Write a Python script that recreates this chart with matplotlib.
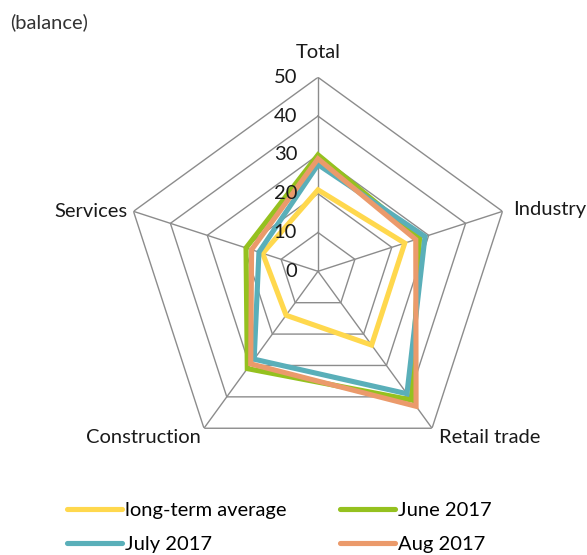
import numpy as np
import matplotlib
matplotlib.use("Agg")
import matplotlib.pyplot as plt
from matplotlib.lines import Line2D

plt.rcParams['font.family'] = ['Lato', 'DejaVu Sans']

categories = ["Total", "Industry", "Retail trade", "Construction", "Services"]
long_term_average = [21, 23.5, 23.5, 14, 15]
june_2017 = [30, 27.5, 41, 31, 19.5]
july_2017 = [27.5, 29, 39, 28, 16]
aug_2017 = [29, 26.5, 43, 29.5, 18]
series_names = ["long-term average", "June 2017", "July 2017", "Aug 2017"]
series_values = [long_term_average, june_2017, july_2017, aug_2017]
colors = ["#FFD84D", "#95C11F", "#5AAFB9", "#EB9A6B"]
r_ticks = [0, 10, 20, 30, 40, 50]

W, H = 587, 555
fig = plt.figure(figsize=(W / 100, H / 100), dpi=100)
cx, cy, R = 318, 271.3, 194
ax = fig.add_axes([(cx - R) / W, (H - cy - R) / H, 2 * R / W, 2 * R / H], projection='polar')
ax.set_theta_offset(np.pi / 2)
ax.set_theta_direction(-1)
ax.set_ylim(0, 50)
ax.set_xticks([])
ax.set_yticks([])
ax.grid(False)
ax.spines['polar'].set_visible(False)
ax.patch.set_visible(False)

n = len(categories)
theta = np.arange(n) * 2 * np.pi / n
theta_closed = np.concatenate([theta, theta[:1]])

grid_color = "#8C8C8C"
for r in r_ticks[1:]:
    ax.plot(theta_closed, [r] * (n + 1), color=grid_color, lw=1.0, zorder=1)
for t in theta:
    ax.plot([t, t], [0, 50], color=grid_color, lw=1.0, zorder=1)

fs = 14.5
for r in r_ticks:
    ax.annotate(str(r), xy=(0, r), xytext=(-15, 0), textcoords='offset points',
                ha='right', va='center', fontsize=fs, color='#1a1a1a', zorder=6)

label_offsets = {
    "Total": ((0, 12), 'center', 'bottom'),
    "Industry": ((8, 1), 'left', 'center'),
    "Retail trade": ((5, -7), 'left', 'center'),
    "Construction": ((-2, -7), 'right', 'center'),
    "Services": ((-4, 0), 'right', 'center'),
}
for t, c in zip(theta, categories):
    off, ha, va = label_offsets[c]
    ax.annotate(c, xy=(t, 50), xytext=off, textcoords='offset points',
                ha=ha, va=va, fontsize=fs, color='#1a1a1a', zorder=6)

for name, vals, col in zip(series_names, series_values, colors):
    v = np.concatenate([vals, vals[:1]])
    ax.fill(theta_closed, v, fill=False, edgecolor=col, lw=3.7, joinstyle='miter', zorder=3)

fig.text(10 / W, 1 - 22 / H, "(balance)", ha='left', va='center', fontsize=fs, color='#333333')

handles = [Line2D([0], [0], color=c, lw=3.7, solid_capstyle='round') for c in colors]
order = [0, 2, 1, 3]
fig.legend([handles[i] for i in order], [series_names[i] for i in order], ncol=2,
           loc='upper left', bbox_to_anchor=(49 / W, 1 - 484 / H), frameon=False, fontsize=fs,
           handlelength=2.7, handletextpad=0.15, columnspacing=2.7, labelspacing=0.85)

fig.savefig("out.png", dpi=100)
